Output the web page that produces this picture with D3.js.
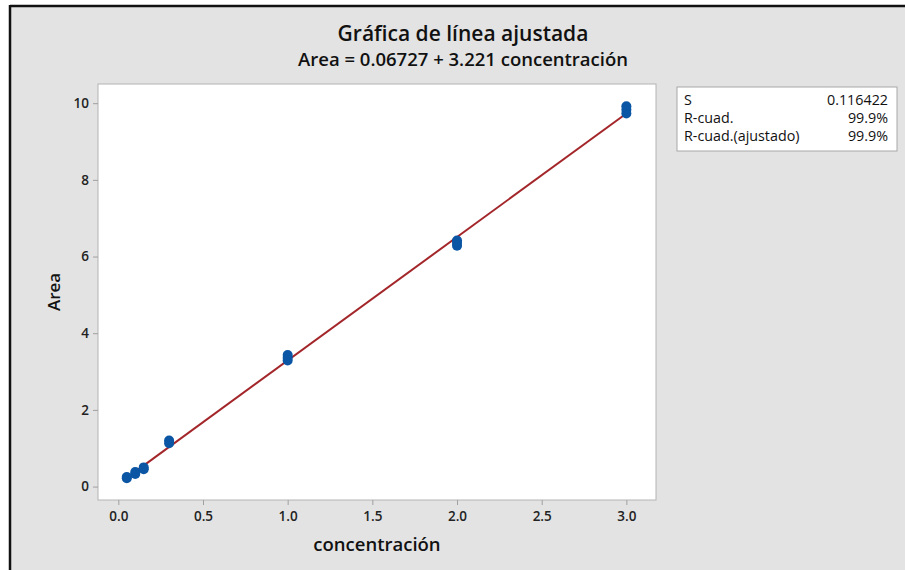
<!DOCTYPE html>
<html>
<head>
<meta charset="utf-8">
<script src="https://cdn.jsdelivr.net/npm/d3@7"></script>
<style>
  html, body { margin: 0; padding: 0; background: #ffffff; }
  svg { display: block; font-family: "Open Sans", "Noto Sans", sans-serif; }
</style>
</head>
<body>
<svg id="chart" width="905" height="570"></svg>
<script>
// Calibration data: concentration vs measured area (replicates)
const concentracion = [0.05, 0.05, 0.1, 0.1, 0.15, 0.15, 0.3, 0.3,
                       1.0, 1.0, 1.0, 2.0, 2.0, 2.0, 3.0, 3.0, 3.0];
const area = [0.22, 0.25, 0.33, 0.38, 0.45, 0.50, 1.13, 1.20,
              3.29, 3.36, 3.43, 6.28, 6.35, 6.42, 9.73, 9.83, 9.92];

// Fitted regression
const intercept = 0.06727;
const slope = 3.221;

const xTicks = [0.0, 0.5, 1.0, 1.5, 2.0, 2.5, 3.0];
const yTicks = [0, 2, 4, 6, 8, 10];

const statLabels = ["S", "R-cuad.", "R-cuad.(ajustado)"];
const statValues = ["0.116422", "99.9%", "99.9%"];

const svg = d3.select("#chart");

// Outer panel with dark border on top and left
svg.append("rect").attr("x", 10).attr("y", 6).attr("width", 895).attr("height", 564)
  .attr("fill", "#e3e3e3");
svg.append("line").attr("x1", 10).attr("x2", 905).attr("y1", 6).attr("y2", 6)
  .attr("stroke", "#111").attr("stroke-width", 2.5);
svg.append("line").attr("x1", 10).attr("x2", 10).attr("y1", 5).attr("y2", 570)
  .attr("stroke", "#111").attr("stroke-width", 2.5);

const plot = { left: 98, right: 656, top: 84, bottom: 500 };

const x = d3.scaleLinear().domain([-0.12, 3.175]).range([plot.left, plot.right]);
const y = d3.scaleLinear().domain([-0.35, 10.5]).range([plot.bottom, plot.top]);

// Plot area
svg.append("rect")
  .attr("x", plot.left).attr("y", plot.top)
  .attr("width", plot.right - plot.left).attr("height", plot.bottom - plot.top)
  .attr("fill", "#ffffff").attr("stroke", "#b4b4b4").attr("stroke-width", 1);

// Axes
const xAxis = svg.append("g").attr("transform", `translate(0,${plot.bottom})`)
  .call(d3.axisBottom(x).tickValues(xTicks).tickFormat(d3.format(".1f")).tickSizeOuter(0).tickSize(5).tickPadding(6));
const yAxis = svg.append("g").attr("transform", `translate(${plot.left},0)`)
  .call(d3.axisLeft(y).tickValues(yTicks).tickFormat(d3.format("d")).tickSizeOuter(0).tickSize(5).tickPadding(4));

[xAxis, yAxis].forEach(g => {
  g.select(".domain").remove();
  g.selectAll(".tick line").attr("stroke", "#a0a0a0");
  g.selectAll(".tick text").attr("fill", "#222").attr("font-size", 13.5)
    .attr("font-weight", 600).attr("font-family", "\"Open Sans\", sans-serif");
});

// Fitted line
const xFit = [0.05, 3.0];
svg.append("line")
  .attr("x1", x(xFit[0])).attr("y1", y(intercept + slope * xFit[0]))
  .attr("x2", x(xFit[1])).attr("y2", y(intercept + slope * xFit[1]))
  .attr("stroke", "#a3262a").attr("stroke-width", 2);

// Observations
svg.append("g").selectAll("circle")
  .data(concentracion.map((c, i) => [c, area[i]]))
  .join("circle")
  .attr("cx", d => x(d[0])).attr("cy", d => y(d[1]))
  .attr("r", 5).attr("fill", "#0b56a4");

// Titles
svg.append("text").attr("x", 463).attr("y", 41).attr("text-anchor", "middle")
  .attr("font-size", 21).attr("font-weight", 600).attr("fill", "#111")
  .text("Gráfica de línea ajustada");
svg.append("text").attr("x", 463).attr("y", 66).attr("text-anchor", "middle")
  .attr("font-size", 18.5).attr("font-weight", 600).attr("fill", "#111")
  .text("Area = 0.06727 + 3.221 concentración");

// Axis titles
svg.append("text").attr("x", 377).attr("y", 551).attr("text-anchor", "middle")
  .attr("font-size", 18.5).attr("font-weight", 600).attr("fill", "#111")
  .text("concentración");
svg.append("text").attr("transform", "translate(60,292) rotate(-90)")
  .attr("text-anchor", "middle")
  .attr("font-size", 17).attr("font-weight", 600).attr("fill", "#111")
  .text("Area");

// Summary statistics box
const box = svg.append("g");
box.append("rect").attr("x", 677).attr("y", 87).attr("width", 220).attr("height", 64)
  .attr("fill", "#ffffff").attr("stroke", "#a8a8a8").attr("stroke-width", 1);
statLabels.forEach((lab, i) => {
  box.append("text").attr("x", 684).attr("y", 105 + i * 18)
    .attr("font-size", 14.3).attr("font-weight", 500).attr("fill", "#111").text(lab);
  box.append("text").attr("x", 888).attr("y", 105 + i * 18).attr("text-anchor", "end")
    .attr("font-size", 14.3).attr("font-weight", 500).attr("fill", "#111").text(statValues[i]);
});
</script>
</body>
</html>
